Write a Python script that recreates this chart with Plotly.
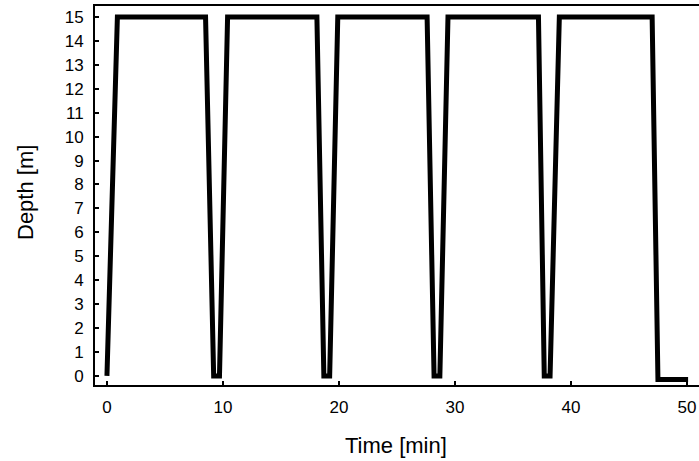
import plotly.graph_objects as go

# Dive profile
time_min = [0, 0.9, 8.5, 9.2, 9.7, 10.4, 18.1, 18.7, 19.2, 19.9, 27.6, 28.2, 28.7, 29.4,
            37.2, 37.7, 38.2, 39.0, 47.0, 47.5, 50.1]
depth_m = [0, 15, 15, 0, 0, 15, 15, 0, 0, 15, 15, 0, 0, 15, 15, 0, 0, 15, 15, -0.15, -0.15]

x_ticks = [0, 10, 20, 30, 40, 50]
y_ticks = list(range(0, 16))

FONT = "Liberation Sans, Arial, Helvetica, sans-serif"

fig = go.Figure()
fig.add_trace(go.Scatter(x=time_min, y=depth_m, mode="lines",
                         line=dict(color="black", width=5),
                         hoverinfo="skip", showlegend=False))

fig.update_layout(
    width=699, height=461,
    margin=dict(l=95, r=0, t=6, b=76),
    paper_bgcolor="white", plot_bgcolor="white",
    font=dict(family=FONT, size=17, color="black"),
    xaxis=dict(range=[-1.03, 51.04], tickvals=x_ticks, ticks="inside", ticklen=4,
               tickcolor="black", tickwidth=1.5, showline=True, linecolor="black",
               linewidth=2, mirror=True, showgrid=False, zeroline=False,
               ticklabelstandoff=6,
               tickfont=dict(family=FONT, size=17, color="black")),
    yaxis=dict(range=[-0.38, 15.46], tickvals=y_ticks, ticks="inside", ticklen=4,
               tickcolor="black", tickwidth=1.5, showline=True, linecolor="black",
               linewidth=2, showgrid=False, zeroline=False,
               ticklabelstandoff=6,
               tickfont=dict(family=FONT, size=17, color="black")),
    annotations=[
        dict(text="Time [min]", xref="paper", yref="paper", x=(396 - 95) / 604,
             y=-(445 - 385) / 379, showarrow=False, xanchor="center", yanchor="middle",
             font=dict(family=FONT, size=22, color="black")),
        dict(text="Depth [m]", xref="paper", yref="paper", x=-(95 - 25) / 604,
             y=(385 - 193) / 379, showarrow=False, textangle=-90,
             xanchor="center", yanchor="middle",
             font=dict(family=FONT, size=22, color="black")),
    ],
)

fig.write_html("out.html")
